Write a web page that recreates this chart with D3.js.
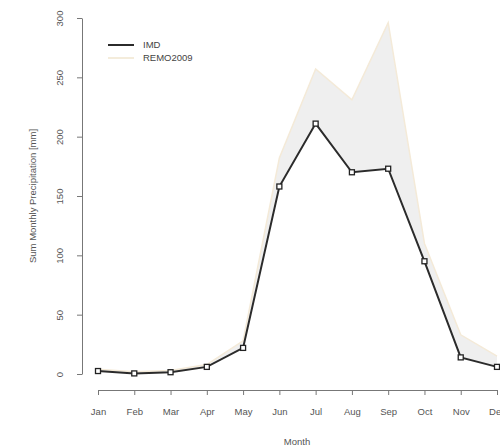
<!DOCTYPE html>
<html>
<head>
<meta charset="utf-8">
<script src="https://cdn.jsdelivr.net/npm/d3@7"></script>
<style>
  body { margin: 0; background: #fff; }
  svg { display: block; font-family: "Liberation Sans", Arial, sans-serif; }
</style>
</head>
<body>
<div id="chart"></div>
<script>
// Data
const months = ["Jan", "Feb", "Mar", "Apr", "May", "Jun", "Jul", "Aug", "Sep", "Oct", "Nov", "Dec"];
const imd = [2.5, 0.5, 1.5, 6, 22, 158, 211, 170, 173, 95, 14, 6];
const remo = [4, 2, 3, 8, 28, 182, 257, 231, 296, 110, 33, 15];
const yTicks = [0, 50, 100, 150, 200, 250, 300];

const width = 500, height = 448;

const svg = d3.select("#chart").append("svg")
  .attr("width", width)
  .attr("height", height);

const x = d3.scaleLinear().domain([0, 11]).range([98, 497]);
const y = d3.scaleLinear().domain([0, 300]).range([374, 18]);

// shaded band between the two series
const area = d3.area()
  .x((d, i) => x(i))
  .y0((d, i) => y(imd[i]))
  .y1(d => y(d));

svg.append("path")
  .datum(remo)
  .attr("d", area)
  .attr("fill", "#efefef")
  .attr("stroke", "none");

const line = d3.line().x((d, i) => x(i)).y(d => y(d));

svg.append("path")
  .datum(remo)
  .attr("d", line)
  .attr("fill", "none")
  .attr("stroke", "#f4ead8")
  .attr("stroke-width", 1.5);

svg.append("path")
  .datum(imd)
  .attr("d", line)
  .attr("fill", "none")
  .attr("stroke", "#2b2b2b")
  .attr("stroke-width", 2);

// open square markers
svg.selectAll(".pt")
  .data(imd)
  .join("rect")
  .attr("class", "pt")
  .attr("x", (d, i) => x(i) - 2.5)
  .attr("y", d => y(d) - 2.5)
  .attr("width", 5)
  .attr("height", 5)
  .attr("fill", "#fff")
  .attr("stroke", "#222")
  .attr("stroke-width", 1.3);

// Axes (R style)
const yAxis = svg.append("g")
  .attr("transform", "translate(82,0)")
  .call(d3.axisLeft(y).tickValues(yTicks).tickSize(5).tickSizeOuter(0));

yAxis.selectAll("text")
  .attr("transform", "translate(-22,0) rotate(-90)")
  .attr("x", 0).attr("y", 0).attr("dy", "0.35em")
  .style("text-anchor", "middle");

const xAxis = svg.append("g")
  .attr("transform", "translate(0,390)")
  .call(d3.axisBottom(x).tickValues(d3.range(12)).tickFormat(i => months[i]).tickSize(5).tickSizeOuter(0));

xAxis.selectAll("text").attr("dy", "1.8em");

svg.selectAll(".domain, .tick line")
  .attr("stroke", "#777")
  .attr("stroke-width", 1);

svg.selectAll(".tick text")
  .attr("fill", "#555")
  .attr("font-size", "9.5px");

// Axis titles
svg.append("text")
  .attr("transform", "translate(33,196) rotate(-90)")
  .attr("text-anchor", "middle")
  .attr("dy", "0.35em")
  .attr("font-size", "9.5px")
  .attr("fill", "#555")
  .text("Sum Monthly Precipitation [mm]");

svg.append("text")
  .attr("x", 297)
  .attr("y", 442)
  .attr("text-anchor", "middle")
  .attr("dy", "0.35em")
  .attr("font-size", "9.5px")
  .attr("fill", "#555")
  .text("Month");

// Legend
const legend = [
  { name: "IMD", color: "#2b2b2b", w: 2 },
  { name: "REMO2009", color: "#f1e6cf", w: 1.5 }
];

const lg = svg.append("g").attr("transform", "translate(108,45)");
legend.forEach((d, i) => {
  lg.append("line")
    .attr("x1", 0).attr("x2", 26)
    .attr("y1", i * 13).attr("y2", i * 13)
    .attr("stroke", d.color)
    .attr("stroke-width", d.w);
  lg.append("text")
    .attr("x", 35)
    .attr("y", i * 13)
    .attr("dy", "0.35em")
    .attr("font-size", "9.5px")
    .attr("fill", "#444")
    .text(d.name);
});
</script>
</body>
</html>
